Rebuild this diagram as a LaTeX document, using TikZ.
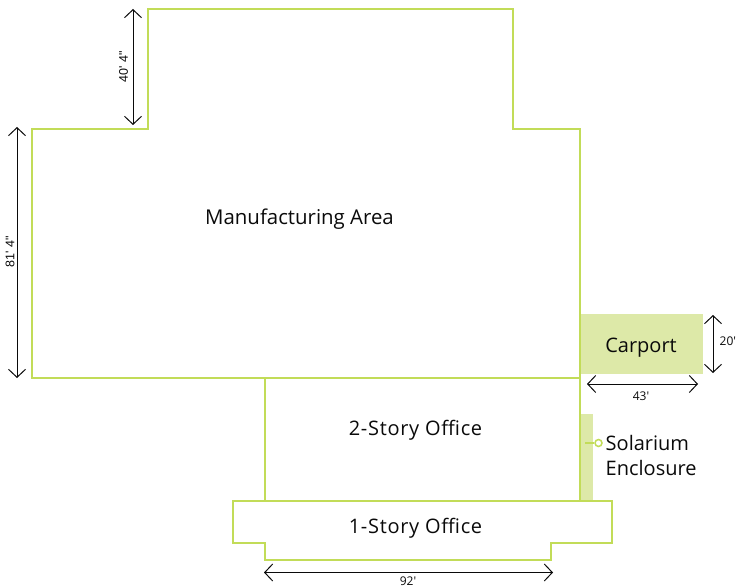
\documentclass[tikz,border=0pt]{standalone}
\usepackage{fontspec}
\setmainfont{Open Sans}
\newfontfamily\dimfont{Liberation Sans}
\newfontfamily\plainfont{Open Sans}
\newfontfamily\officefont[LetterSpace=3.5]{Open Sans}
\usetikzlibrary{arrows.meta}
\definecolor{wall}{HTML}{C2DC58}
\definecolor{pale}{HTML}{DDE9A8}
\definecolor{ink}{HTML}{0A0A0A}
\tikzset{
  x=1pt,y=-1pt,
  wallline/.style={draw=wall,line width=2pt,line join=miter},
  palefill/.style={fill=pale,draw=none},
  dimline/.style={draw=ink,line width=1pt,{Straight Barb[length=8pt,width=17pt,line width=1pt]}-{Straight Barb[length=8pt,width=17pt,line width=1pt]}},
  roomlabel/.style={font=\fontsize{20}{24}\selectfont,text=ink,inner sep=0pt,align=left,anchor=base},
  officelabel/.style={font=\officefont\fontsize{20}{24}\selectfont,text=ink,inner sep=0pt,anchor=base},
  dimlabel/.style={font=\dimfont\fontsize{12.5}{15}\selectfont,text=ink,inner sep=0pt},
  dimlabelb/.style={font=\plainfont\fontsize{12}{14}\selectfont,text=ink,inner sep=0pt},
  leader/.style={draw=wall,line width=1.5pt},
  leaderdot/.style={circle,draw=wall,line width=1.5pt,fill=white,minimum size=7pt,inner sep=0pt}
}
\begin{document}
\begin{tikzpicture}
\useasboundingbox (0,0) rectangle (736,588);
\clip (0,0) rectangle (736,588);
% pale areas
\node[palefill,minimum width=122pt,minimum height=60pt,inner sep=0pt,anchor=north west] (carportbox) at (581,314) {};
\node[palefill,minimum width=12pt,minimum height=86pt,inner sep=0pt,anchor=north west] (solbox) at (581,414) {};
% walls
\draw[wallline] (32,129) -- (148,129) -- (148,9.5) -- (513,9.5) -- (513,129) -- (580,129) -- (580,378) -- (32,378) -- cycle;
\draw[wallline] (264.5,378) -- (264.5,500);
\draw[wallline] (580,378) -- (580,500);
\draw[wallline] (233,500.5) -- (612,500.5) -- (612,543) -- (551,543) -- (551,560) -- (264.5,560) -- (264.5,543) -- (233,543) -- cycle;
% labels
\node[roomlabel,font=\fontsize{20.4}{24}\selectfont] (mfg) at (299.5,225) {Manufacturing Area};
\node[officelabel] (two) at (415.5,435) {2-Story Office};
\node[officelabel] (one) at (415.5,533) {1-Story Office};
\node[roomlabel] (carport) at (641,352) {Carport};
\node[roomlabel,anchor=base west] (sol1) at (605.5,450) {Solarium};
\node[roomlabel,anchor=base west] (sol2) at (605.5,475) {Enclosure};
% solarium leader
\node[leaderdot] (dot) at (598.5,443) {};
\coordinate (leadstart) at (585,443);
\draw[leader] (leadstart) -- (dot);
% dimensions
\coordinate (d40a) at (133,9); \coordinate (d40b) at (133,125);
\draw[dimline] (d40a) -- (d40b);
\node[dimlabel,rotate=90] (l40) at (123.5,67) {40' 4"};
\coordinate (d81a) at (17,127); \coordinate (d81b) at (17,378);
\draw[dimline] (d81a) -- (d81b);
\node[dimlabel,rotate=90] (l81) at (10,252) {81' 4"};
\coordinate (d20a) at (713,315); \coordinate (d20b) at (713,373);
\draw[dimline] (d20a) -- (d20b);
\node[dimlabelb,anchor=west] (l20) at (719.5,341) {20'};
\coordinate (d43a) at (587,384); \coordinate (d43b) at (698,384);
\draw[dimline] (d43a) -- (d43b);
\node[dimlabelb] (l43) at (641,396) {43'};
\coordinate (d92a) at (264,572.5); \coordinate (d92b) at (553,572.5);
\draw[dimline] (d92a) -- (d92b);
\node[dimlabelb] (l92) at (408,581) {92'};
\end{tikzpicture}
\end{document}
